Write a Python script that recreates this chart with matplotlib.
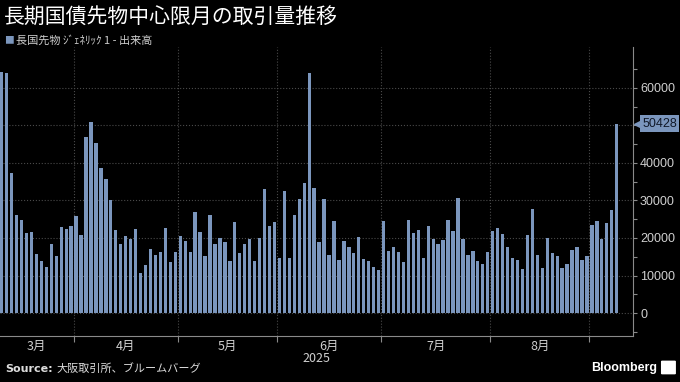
import numpy as np
import pandas as pd
import matplotlib
matplotlib.use("Agg")
import matplotlib.pyplot as plt
import matplotlib.transforms as mtransforms
from matplotlib.patches import FancyBboxPatch

plt.rcParams['font.family'] = ['Noto Sans CJK JP', 'DejaVu Sans']

# 日次出来高 (2025-03-10 ~ 2025-09-08, 大阪取引所の営業日)
volume = [
    64200, 63800, 37300, 26100, 24900, 21200, 21600, 15700, 14000, 12200,
    18400, 15200, 22800, 22500, 23100, 25900, 20900, 46800, 50800, 45200,
    38600, 35800, 30000, 22200, 18400, 20500, 19700, 22300, 10600, 12700,
    17100, 15600, 16200, 22700, 13500, 16300, 20500, 19200, 16400, 26800,
    21500, 15100, 26100, 18300, 19900, 18800, 14000, 24200, 15900, 18300,
    19800, 14000, 19900, 33000, 23200, 24200, 14800, 32600, 14700, 26000,
    30300, 34600, 64000, 33300, 19000, 30300, 15600, 24400, 14200, 19200,
    17700, 15900, 20200, 14500, 13900, 12200, 11600, 24400, 16600, 17700,
    16200, 13500, 24900, 21200, 22000, 14800, 23100, 19600, 18300, 19500,
    24700, 21800, 30700, 19700, 15400, 16600, 14000, 13000, 16400, 21800,
    22700, 21100, 17700, 14700, 14100, 11800, 20900, 27800, 15600, 12000,
    19900, 15900, 15300, 12000, 13100, 16800, 17500, 14100, 15300, 23500,
    24500, 19700, 24100, 27400, 50428,
]
holidays = ['2025-03-20', '2025-04-29', '2025-05-05', '2025-05-06',
            '2025-07-21', '2025-08-11']
dates = pd.bdate_range('2025-03-10', '2025-09-08', freq='C', holidays=holidays)

title = "長期国債先物中心限月の取引量推移"
legend_label = "長国先物 ｼﾞｪﾈﾘｯｸ 1 - 出来高"
source = "大阪取引所、ブルームバーグ"
y_ticks = [0, 10000, 20000, 30000, 40000, 50000, 60000]
# 50000 は最新値タグに隠れる
y_labels = ["0", "10000", "20000", "30000", "40000", "", "60000"]

bar_color = '#7b96bd'
grid_color = '#4a4a4a'
axis_color = '#8a8a8a'

fig = plt.figure(figsize=(6.8, 3.82), dpi=100, facecolor='black')
ax = fig.add_axes([0, 0.1204, 0.931, 0.757])
ax.set_facecolor('black')

x = np.arange(len(volume))
ax.bar(x, volume, width=0.67, color=bar_color, zorder=3)
xlim = (-0.34, 127.3)
ax.set_xlim(*xlim)
ax.set_ylim(-6100, 70900)

# month boundaries and labels
months = dates.month.values
bounds = [i - 0.5 for i in range(1, len(dates)) if months[i] != months[i - 1]]
centers, labels = [], []
for m in pd.unique(months):
    idx = np.where(months == m)[0]
    if len(idx) < 10:
        continue
    lo = max(idx[0] - 0.5, xlim[0])
    hi = min(idx[-1] + 0.5, xlim[1])
    centers.append((lo + hi) / 2)
    labels.append(f"{m}月")

ax.set_xticks(bounds)
ax.set_xticklabels([])
ax.set_xticks(centers, minor=True)
ax.set_xticklabels(labels, minor=True)
ax.tick_params(axis='x', which='major', colors=axis_color, length=4, width=0.8)
ax.tick_params(axis='x', which='minor', length=0, labelsize=9,
               labelcolor='#d0d0d0', pad=3)
ax.text(np.mean(xlim), -0.057, "2025",
        transform=mtransforms.blended_transform_factory(ax.transData, ax.transAxes),
        ha='center', va='top', fontsize=9, color='#d0d0d0')

ax.yaxis.tick_right()
ax.set_yticks(y_ticks)
ax.set_yticklabels(y_labels)
ax.set_yticks(np.arange(-5000, 70000, 10000), minor=True)
ax.tick_params(axis='y', which='both', colors=axis_color, length=3, width=0.8,
               labelsize=9, labelcolor='#d0d0d0', pad=2)
for lbl in ax.get_yticklabels():
    lbl.set_fontfamily('Liberation Sans')

ax.grid(axis='y', which='major', color=grid_color, linestyle=':', linewidth=0.8, zorder=0)
ax.grid(axis='x', which='major', color=grid_color, linestyle=':', linewidth=0.8, zorder=0)

for side in ['left', 'top']:
    ax.spines[side].set_visible(False)
for side in ['right', 'bottom']:
    ax.spines[side].set_color(axis_color)
    ax.spines[side].set_linewidth(0.8)

# last value tag
trans = mtransforms.blended_transform_factory(ax.transAxes, ax.transData)
ax.annotate(f"{volume[-1]}", xy=(1.0, volume[-1]), xycoords=trans,
            xytext=(6.5, 0), textcoords='offset points', ha='left', va='center',
            fontsize=9, color='#101828', family='Liberation Sans',
            bbox=dict(boxstyle='square,pad=0.2', fc=bar_color, ec='none'))
ax.plot([1.0], [volume[-1]], marker='<', markersize=6, color=bar_color,
        transform=mtransforms.offset_copy(trans, fig=fig, x=5, units='dots'),
        clip_on=False)

fig.text(0.005, 0.985, title, ha='left', va='top', fontsize=15, color='white')
fig.text(0.006, 0.895, "■", ha='left', va='center', fontsize=7, color=bar_color)
fig.text(0.024, 0.895, legend_label, ha='left', va='center', fontsize=8, color='#cfcfcf')

fig.text(0.007, 0.022, "Source:", ha='left', va='bottom', fontsize=8,
         weight='bold', color='#dddddd', family='DejaVu Sans')
fig.text(0.083, 0.022, source, ha='left', va='bottom', fontsize=8, color='#dddddd')
fig.text(0.966, 0.022, "Bloomberg", ha='right', va='bottom', fontsize=9,
         weight='bold', color='white', family='Liberation Sans')
fig.patches.append(FancyBboxPatch((0.974, 0.022), 0.018, 0.032,
                                  boxstyle='round,pad=0.002', fc='white', ec='none',
                                  transform=fig.transFigure, figure=fig))

fig.savefig("out.png", dpi=100, facecolor='black')
